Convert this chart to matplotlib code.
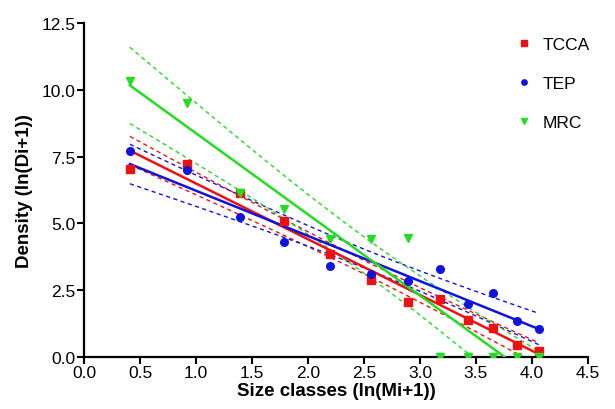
import numpy as np
import matplotlib.pyplot as plt

plt.rcParams['font.family'] = ['Liberation Sans', 'DejaVu Sans']

# size classes, ln(Mi+1)
size_cls = np.array([0.41, 0.92, 1.39, 1.79, 2.20, 2.56, 2.89, 3.18, 3.43, 3.65, 3.87, 4.06])

# density, ln(Di+1)
tcca = np.array([7.03, 7.24, 6.15, 5.10, 3.87, 2.90, 2.06, 2.16, 1.38, 1.07, 0.45, 0.24])
tep = np.array([7.70, 7.00, 5.23, 4.32, 3.39, 3.11, 2.83, 3.30, 2.00, 2.38, 1.35, 1.04])
mrc = np.array([10.33, 9.49, 6.15, 5.53, 4.41, 4.41, 4.44, 0.0, 0.0, 0.0, 0.0, 0.0])

x_ticks = [0.0, 0.5, 1.0, 1.5, 2.0, 2.5, 3.0, 3.5, 4.0, 4.5]
y_ticks = [0.0, 2.5, 5.0, 7.5, 10.0, 12.5]

T_95 = 2.228  # t quantile, df = 10

series = [
    ("TCCA", tcca, "#ee1111", "s"),
    ("TEP", tep, "#1111e0", "o"),
    ("MRC", mrc, "#22dd22", "v"),
]

fig = plt.figure(figsize=(6.15, 4.1), dpi=100)
ax = fig.add_axes([0.1366, 0.1268, 0.8194, 0.8147])

xs = np.linspace(size_cls.min(), size_cls.max(), 100)
for name, y, col, mk in series:
    b, a = np.polyfit(size_cls, y, 1)
    fit = a + b * xs
    n = len(size_cls)
    resid = y - (a + b * size_cls)
    s = np.sqrt(np.sum(resid ** 2) / (n - 2))
    sxx = np.sum((size_cls - size_cls.mean()) ** 2)
    half = T_95 * s * np.sqrt(1 / n + (xs - size_cls.mean()) ** 2 / sxx)
    ax.plot(xs, fit, color=col, lw=1.8, zorder=3)
    ax.plot(xs, fit + half, color=col, lw=1.0, ls=(0, (3, 2.5)), zorder=2)
    ax.plot(xs, fit - half, color=col, lw=1.0, ls=(0, (3, 2.5)), zorder=2)
    ax.plot(size_cls, y, ls="none", marker=mk, ms=5.5, color=col, label=name, zorder=4)

ax.set_xlim(0, 4.5)
ax.set_ylim(0, 12.5)
ax.set_xticks(x_ticks)
ax.set_yticks(y_ticks)
ax.set_xticklabels([f"{t:.1f}" for t in x_ticks])
ax.set_yticklabels([f"{t:.1f}" for t in y_ticks])
ax.tick_params(labelsize=12.5, width=1.5, length=5, direction="out", pad=1)

for side in ["top", "right"]:
    ax.spines[side].set_visible(False)
for side in ["left", "bottom"]:
    ax.spines[side].set_linewidth(1.6)

ax.set_xlabel("Size classes (ln(Mi+1))", fontsize=13.5, fontweight="bold", labelpad=1)
ax.set_ylabel("Density (ln(Di+1))", fontsize=13.5, fontweight="bold", labelpad=6)

ax.legend(loc="upper right", bbox_to_anchor=(1.035, 1.005), frameon=False,
          fontsize=12.5, handlelength=1.0, handletextpad=0.6, labelspacing=1.38,
          markerscale=0.7)

fig.savefig("out.png", dpi=100)
